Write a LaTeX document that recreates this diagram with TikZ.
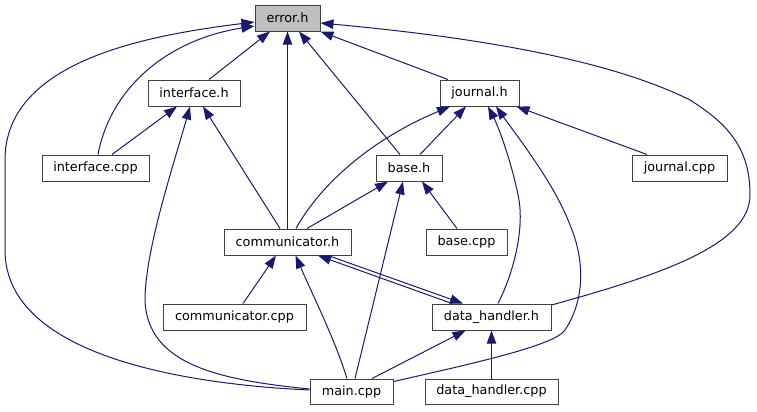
\documentclass[tikz,border=0pt]{standalone}
\usepackage{fontspec}
\setmainfont{DejaVu Sans}
\usetikzlibrary{arrows.meta,calc}
\definecolor{edgeblue}{HTML}{191970}
\definecolor{bordergray}{HTML}{404040}
\definecolor{errfill}{HTML}{BFBFBF}
\tikzset{
  box/.style={draw=bordergray, line width=0.75pt, fill=white, inner sep=0pt,
    minimum height=19.5pt, font=\fontsize{9.6}{11}\selectfont, text=black},
  lowbox/.style={box, minimum height=18.75pt},
  edge/.style={draw=edgeblue, line width=0.75pt,
    -{Triangle[length=9.75pt,width=7pt]}, fill=none}
}
\begin{document}
\begin{tikzpicture}[x=0.75pt,y=-0.75pt]
\useasboundingbox (0,0) rectangle (757,411);
% nodes
\node[box, fill=errfill, minimum width=48.75pt] (error) at (287.5,18) {error.h};
\node[box, minimum width=69pt] (interfaceh) at (194,93) {interface.h};
\node[box, minimum width=80.25pt] (interfacecpp) at (95.5,168) {interface.cpp};
\node[box, minimum width=59.25pt] (journalh) at (479.5,93) {journal.h};
\node[box, minimum width=49.5pt] (baseh) at (409,168) {base.h};
\node[box, minimum width=71.25pt] (journalcpp) at (679.5,168) {journal.cpp};
\node[box, minimum width=95.25pt] (commh) at (287.5,242) {communicator.h};
\node[box, minimum width=60.75pt] (basecpp) at (466.5,242) {base.cpp};
\node[box, minimum width=107.25pt] (commcpp) at (234.5,317) {communicator.cpp};
\node[box, minimum width=89.25pt] (dhh) at (491.5,317) {data\_handler.h};
\node[lowbox, minimum width=62.25pt] (main) at (351.5,391.5) {main.cpp};
\node[lowbox, minimum width=99.75pt] (dhcpp) at (491.5,391.5) {data\_handler.cpp};
% edges to error.h
\draw[edge] ($(interfaceh.north)+(15,0)$) -- ($(error.south)+(-17.5,0)$);
\draw[edge] ($(interfacecpp.north)+(2.5,0)$) .. controls (110,90) and (165,40) .. ($(error.west)+(0,8)$);
\draw[edge] ($(main.west)+(0,-1.5)$) .. controls (200,385) and (5,360) .. (5,250) -- (5,160) .. controls (5,60) and (150,35) .. ($(error.west)+(0,4)$);
\draw[edge] (commh.north) -- (error.south);
\draw[edge] ($(baseh.north)+(-9,0)$) -- ($(error.south)+(11.5,0)$);
\draw[edge] ($(journalh.north)+(-31.5,0)$) -- (error.south east);
\draw[edge] ($(dhh.east)+(0,-12)$) .. controls (660,275) and (750,245) .. (750,195) .. controls (750,150) and (730,125) .. (690,100) .. controls (600,55) and (450,35) .. ($(error.east)+(0,5)$);
% edges to interface.h
\draw[edge] ($(interfacecpp.north)+(16.5,0)$) -- ($(interfaceh.south)+(-17,0)$);
\draw[edge] ($(main.west)+(0,-2.5)$) .. controls (220,380) and (147,365) .. (145,300) .. controls (145,250) and (175,160) .. ($(interfaceh.south)+(-4,0)$);
\draw[edge] ($(commh.north)+(-7.5,0)$) -- ($(interfaceh.south)+(9,0)$);
% edges to journal.h
\draw[edge] ($(commh.north)+(8.5,0)$) .. controls (320,185) and (370,140) .. ($(journalh.south)+(-29.5,0)$);
\draw[edge] ($(baseh.north)+(11,0)$) -- ($(journalh.south)+(-13.5,0)$);
\draw[edge] ($(dhh.north)+(6.5,0)$) .. controls (515,270) and (525,225) .. (518,195) .. controls (512,165) and (500,130) .. ($(journalh.south)+(8.5,0)$);
\draw[edge] ($(main.east)+(0,-10)$) .. controls (480,362) and (555,345) .. (565,330) .. controls (585,300) and (585,260) .. (570,225) .. controls (555,185) and (520,140) .. ($(journalh.south)+(16.5,0)$);
\draw[edge] ($(journalcpp.north)+(-32.5,0)$) -- ($(journalh.south east)+(-3,0)$);
% edges to base.h
\draw[edge] ($(commh.north)+(19.5,0)$) -- ($(baseh.south)+(-21,0)$);
\draw[edge] ($(main.north)+(3.5,0)$) -- ($(baseh.south)+(-6,0)$);
\draw[edge] ($(basecpp.north)+(-9.5,0)$) -- ($(baseh.south)+(13,0)$);
% edges to communicator.h
\draw[edge] ($(commcpp.north)+(8.5,0)$) -- ($(commh.south)+(-11.5,0)$);
\draw[edge] ($(main.north)+(-4.5,0)$) .. controls (335,340) and (315,300) .. ($(commh.south)+(8,0)$);
\draw[edge] ($(dhh.north)+(-39.5,0)$) -- ($(commh.south)+(30.5,0)$);
% edges to data_handler.h
\draw[edge] ($(commh.south)+(40.5,0)$) -- ($(dhh.north)+(-28.5,0)$);
\draw[edge] ($(main.north)+(20.5,0)$) -- ($(dhh.south)+(-26,0)$);
\draw[edge] (dhcpp.north) -- (dhh.south);
\end{tikzpicture}
\end{document}
